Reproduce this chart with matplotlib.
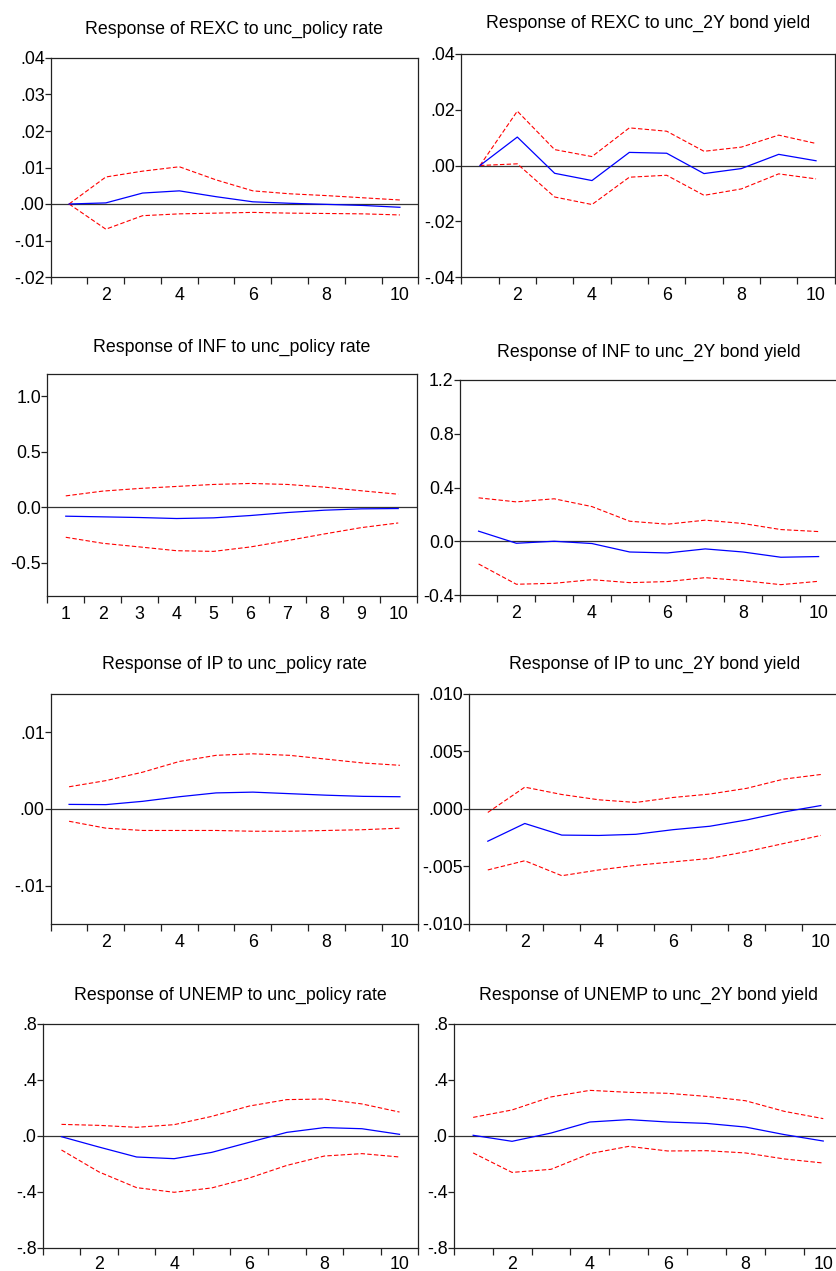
import numpy as np
import matplotlib
matplotlib.use("Agg")
import matplotlib.pyplot as plt

plt.rcParams['font.family'] = ['Liberation Sans', 'DejaVu Sans']

horizon = list(range(1, 11))

# Response of REXC to unc_policy rate
rexc_pol_resp = [0.0, 0.0003, 0.0030, 0.0036, 0.0020, 0.0006, 0.0002, -0.0001, -0.0004, -0.0009]
rexc_pol_up = [0.0, 0.0074, 0.0090, 0.0102, 0.0066, 0.0036, 0.0028, 0.0023, 0.0017, 0.0011]
rexc_pol_lo = [0.0, -0.0069, -0.0032, -0.0027, -0.0025, -0.0023, -0.0025, -0.0026, -0.0027, -0.0030]

# Response of REXC to unc_2Y bond yield
rexc_bond_resp = [0.0, 0.0102, -0.0028, -0.0054, 0.0047, 0.0044, -0.0029, -0.0011, 0.0040, 0.0017]
rexc_bond_up = [0.0, 0.0195, 0.0057, 0.0032, 0.0135, 0.0123, 0.0051, 0.0066, 0.0109, 0.0079]
rexc_bond_lo = [0.0, 0.0006, -0.0113, -0.0140, -0.0042, -0.0035, -0.0107, -0.0084, -0.0030, -0.0048]

# Response of INF to unc_policy rate
inf_pol_resp = [-0.081, -0.087, -0.093, -0.102, -0.096, -0.075, -0.048, -0.027, -0.015, -0.012]
inf_pol_up = [0.102, 0.145, 0.169, 0.187, 0.205, 0.214, 0.205, 0.181, 0.148, 0.117]
inf_pol_lo = [-0.271, -0.325, -0.358, -0.392, -0.398, -0.358, -0.301, -0.241, -0.184, -0.142]

# Response of INF to unc_2Y bond yield
inf_bond_resp = [0.075, -0.015, 0.000, -0.017, -0.080, -0.087, -0.057, -0.080, -0.119, -0.114]
inf_bond_up = [0.323, 0.293, 0.316, 0.258, 0.149, 0.127, 0.157, 0.132, 0.087, 0.072]
inf_bond_lo = [-0.169, -0.320, -0.313, -0.286, -0.308, -0.300, -0.271, -0.293, -0.323, -0.298]

# Response of IP to unc_policy rate
ip_pol_resp = [0.00060, 0.00057, 0.0010, 0.0016, 0.0021, 0.0022, 0.0020, 0.0018, 0.00165, 0.0016]
ip_pol_up = [0.0029, 0.0037, 0.0048, 0.0062, 0.0070, 0.0072, 0.0070, 0.0065, 0.0060, 0.0057]
ip_pol_lo = [-0.0016, -0.0025, -0.0028, -0.0028, -0.0028, -0.0029, -0.0029, -0.0028, -0.0027, -0.0025]

# Response of IP to unc_2Y bond yield
ip_bond_resp = [-0.0028, -0.00126, -0.00227, -0.0023, -0.0022, -0.0018, -0.0015, -0.00095, -0.00026, 0.0003]
ip_bond_up = [-0.0003, 0.0019, 0.00126, 0.0008, 0.00057, 0.0010, 0.0013, 0.0018, 0.0026, 0.0030]
ip_bond_lo = [-0.0053, -0.0045, -0.0058, -0.0053, -0.0049, -0.0046, -0.0043, -0.0037, -0.0030, -0.0023]

# Response of UNEMP to unc_policy rate
unemp_pol_resp = [-0.005, -0.079, -0.150, -0.162, -0.117, -0.045, 0.026, 0.060, 0.052, 0.012]
unemp_pol_up = [0.083, 0.076, 0.062, 0.081, 0.140, 0.214, 0.260, 0.264, 0.229, 0.171]
unemp_pol_lo = [-0.100, -0.257, -0.369, -0.402, -0.371, -0.300, -0.210, -0.143, -0.126, -0.150]

# Response of UNEMP to unc_2Y bond yield
unemp_bond_resp = [0.005, -0.038, 0.021, 0.100, 0.117, 0.100, 0.090, 0.064, 0.010, -0.036]
unemp_bond_up = [0.133, 0.186, 0.279, 0.326, 0.312, 0.305, 0.283, 0.252, 0.176, 0.124]
unemp_bond_lo = [-0.121, -0.260, -0.238, -0.126, -0.074, -0.107, -0.105, -0.121, -0.164, -0.193]

titles = [
    "Response of REXC to unc_policy rate", "Response of REXC to unc_2Y bond yield",
    "Response of INF to unc_policy rate", "Response of INF to unc_2Y bond yield",
    "Response of IP to unc_policy rate", "Response of IP to unc_2Y bond yield",
    "Response of UNEMP to unc_policy rate", "Response of UNEMP to unc_2Y bond yield",
]

ytick_values = [
    [-0.02, -0.01, 0.0, 0.01, 0.02, 0.03, 0.04],
    [-0.04, -0.02, 0.0, 0.02, 0.04],
    [-0.5, 0.0, 0.5, 1.0],
    [-0.4, 0.0, 0.4, 0.8, 1.2],
    [-0.01, 0.0, 0.01],
    [-0.010, -0.005, 0.0, 0.005, 0.010],
    [-0.8, -0.4, 0.0, 0.4, 0.8],
    [-0.8, -0.4, 0.0, 0.4, 0.8],
]
ytick_labels = [
    ["-.02", "-.01", ".00", ".01", ".02", ".03", ".04"],
    ["-.04", "-.02", ".00", ".02", ".04"],
    ["-0.5", "0.0", "0.5", "1.0"],
    ["-0.4", "0.0", "0.4", "0.8", "1.2"],
    ["-.01", ".00", ".01"],
    ["-.010", "-.005", ".000", ".005", ".010"],
    ["-.8", "-.4", ".0", ".4", ".8"],
    ["-.8", "-.4", ".0", ".4", ".8"],
]
y_limits = [(-0.02, 0.04), (-0.04, 0.04), (-0.8, 1.2), (-0.4, 1.2),
            (-0.015, 0.015), (-0.010, 0.010), (-0.8, 0.8), (-0.8, 0.8)]

xtick_labels_even = ["2", "4", "6", "8", "10"]
xtick_labels_all = [str(h) for h in horizon]

series = [
    (rexc_pol_resp, rexc_pol_up, rexc_pol_lo),
    (rexc_bond_resp, rexc_bond_up, rexc_bond_lo),
    (inf_pol_resp, inf_pol_up, inf_pol_lo),
    (inf_bond_resp, inf_bond_up, inf_bond_lo),
    (ip_pol_resp, ip_pol_up, ip_pol_lo),
    (ip_bond_resp, ip_bond_up, ip_bond_lo),
    (unemp_pol_resp, unemp_pol_up, unemp_pol_lo),
    (unemp_bond_resp, unemp_bond_up, unemp_bond_lo),
]

W, H = 837, 1271
fig = plt.figure(figsize=(W / 100, H / 100), dpi=100)
fig.patch.set_facecolor("white")

# panel frames in pixels: left, right, top, bottom, title centre y
frames = [
    (50.7, 418.3, 58, 277, 29),
    (461.3, 834.7, 54, 277, 23),
    (47.3, 416.7, 374, 596, 347),
    (459.7, 837.5, 380, 595, 352),
    (50.7, 418.3, 694, 924, 664),
    (469.3, 839.3, 694, 924, 664),
    (42.7, 418.3, 1024, 1248, 995),
    (453.7, 842.7, 1024, 1248, 995),
]

for i, (l, r, t, b, ty) in enumerate(frames):
    ax = fig.add_axes([l / W, 1 - b / H, (r - l) / W, (b - t) / H])
    resp, up, lo = series[i]
    ax.axhline(0, color="#333333", lw=0.9, zorder=1)
    ax.plot(horizon, up, color="red", lw=0.8, ls=(0, (4, 2)), zorder=2)
    ax.plot(horizon, lo, color="red", lw=0.8, ls=(0, (4, 2)), zorder=2)
    ax.plot(horizon, resp, color="blue", lw=0.9, zorder=3)
    ax.set_xlim(0.5, 10.5)
    ax.set_ylim(*y_limits[i])

    # tick marks sit on period boundaries, labels at period centres
    ax.set_xticks(np.arange(0.5, 11, 1.0))
    ax.tick_params(axis="x", which="major", length=5, width=0.9, direction="out",
                   labelbottom=False, color="#222222")
    if i == 2:
        ax.set_xticks(horizon, minor=True)
        ax.set_xticklabels(xtick_labels_all, minor=True)
    else:
        ax.set_xticks([2, 4, 6, 8, 10], minor=True)
        ax.set_xticklabels(xtick_labels_even, minor=True)
    xpad = 5.5 if i >= 6 else 7.5
    ax.tick_params(axis="x", which="minor", length=0, pad=xpad, labelsize=12.8)

    ax.set_yticks(ytick_values[i])
    ax.set_yticklabels(ytick_labels[i])
    ax.tick_params(axis="y", length=4, width=0.9, direction="out", pad=0.3,
                   labelsize=12.8, color="#222222")
    for s in ax.spines.values():
        s.set_linewidth(0.9)
        s.set_color("#222222")

    fig.text((l + r) / 2 / W, 1 - ty / H, titles[i], ha="center", va="center", fontsize=12.8)

fig.savefig("out.png", dpi=100, facecolor="white")
